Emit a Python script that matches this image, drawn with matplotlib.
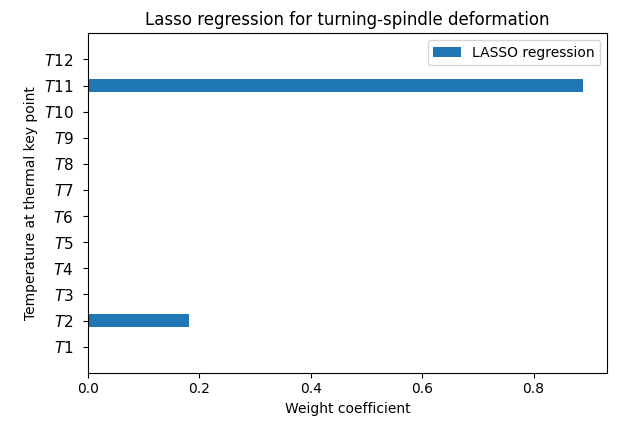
import numpy as np
import matplotlib
matplotlib.use("Agg")
import matplotlib.pyplot as plt

labels = ["$T%d$" % i for i in range(1, 13)]
weights = [0.0, 0.1815, 0.0, 0.0, 0.0, 0.0, 0.0, 0.0, 0.0, 0.0, 0.888, 0.0]

pos = np.arange(1, 13)

fig = plt.figure(figsize=(6.27, 4.25), dpi=100)
ax = fig.add_axes([0.1404, 0.123, 0.8282, 0.7986])
ax.barh(pos, weights, height=0.5, label="LASSO regression")
ax.set_yticks(pos)
ax.set_yticklabels(labels, fontsize=11)
ax.tick_params(axis="y", pad=7)
ax.set_ylim(0, 13)
ax.set_xlabel("Weight coefficient")
ax.set_ylabel("Temperature at thermal key point")
ax.set_title("Lasso regression for turning-spindle deformation")
ax.legend(loc="upper right")
fig.savefig("out.png", dpi=100)
